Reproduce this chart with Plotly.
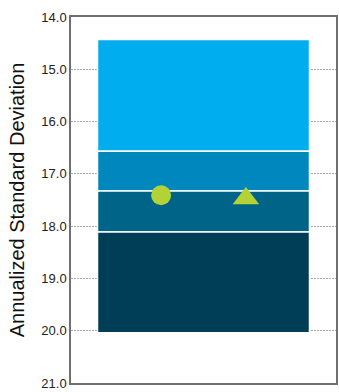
import plotly.graph_objects as go

# Band boundaries (annualized standard deviation), top to bottom
band_edges = [14.43, 16.57, 17.33, 18.11, 20.04]
band_colors = ["#00ADEE", "#0088BE", "#006388", "#003E57"]

# Point estimates shown on top of the bands
point_values = [17.41, 17.47]
point_symbols = ["circle", "triangle-up"]
point_sizes = [20, 23]
point_x = [-0.16, 0.16]
point_color = "#B3D236"

y_ticks = [14.0, 15.0, 16.0, 17.0, 18.0, 19.0, 20.0, 21.0]

fig = go.Figure()

for i, color in enumerate(band_colors):
    lo, hi = band_edges[i], band_edges[i + 1]
    fig.add_trace(go.Bar(
        x=[0], y=[hi - lo], base=[lo], width=0.8,
        marker=dict(color=color, line=dict(color="white", width=1.5)),
        showlegend=False, hoverinfo="skip",
    ))

for xv, yv, sym, sz in zip(point_x, point_values, point_symbols, point_sizes):
    fig.add_trace(go.Scatter(
        x=[xv], y=[yv], mode="markers",
        marker=dict(symbol=sym, size=sz, color=point_color, line=dict(width=0)),
        showlegend=False,
    ))

fig.update_layout(
    width=339, height=392,
    margin=dict(l=71, r=1, t=17, b=9),
    paper_bgcolor="white", plot_bgcolor="white",
    barmode="overlay",
    font=dict(family="Liberation Sans, Arial, sans-serif", color="#222"),
    xaxis=dict(range=[-0.5, 0.5], showticklabels=False, showgrid=False,
               zeroline=False, showline=True, linecolor="#707070", linewidth=1.5,
               mirror=True, ticks=""),
    yaxis=dict(range=[21.0, 14.0], tickvals=y_ticks,
               ticktext=[f"{v:.1f}" for v in y_ticks],
               tickfont=dict(size=13, color="#222"),
               showgrid=True, gridcolor="#a8a8a8", griddash="2px,1px", gridwidth=1,
               zeroline=False, showline=True, linecolor="#707070", linewidth=1.5,
               mirror=True, ticks="",
               title=dict(text="Annualized Standard Deviation",
                          font=dict(size=20, color="#111"), standoff=11)),
)

fig.write_html("out.html")
